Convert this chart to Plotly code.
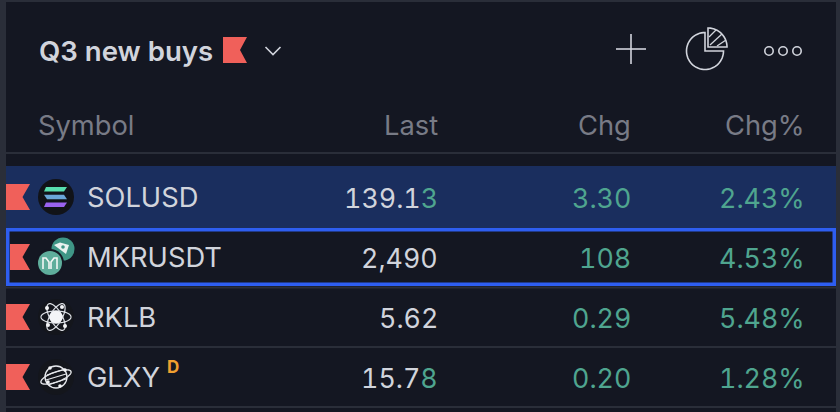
import math
import plotly.graph_objects as go

# ---- data ----
title = "Q3 new buys"
columns = ["Symbol", "Last", "Chg", "Chg%"]
symbols = ["SOLUSD", "MKRUSDT", "RKLB", "GLXY"]
last_main = ["139.1", "2,490", "5.62", "15.7"]
last_tail = ["3", "", "", "8"]
chg = ["3.30", "108", "0.29", "0.20"]
chg_pct = ["2.43%", "4.53%", "5.48%", "1.28%"]

# ---- styles ----
W, H = 840, 412
BG = "#141722"
EDGE = "#2a2e39"
TXT = "#d1d4dc"
MUTED = "#787b86"
GREEN = "#4fa58f"
RED = "#f0605a"
BLUE = "#2e5ef0"
SEL = "#1a2e5e"
FONT = "Inter"
SIZE = 27.3
NUM_SIZE = 26.8
TNUM = "font-feature-settings:'tnum'"
row_y = [197, 257, 317, 377]
col_x = [38, 438, 631, 805]

shapes, ann = [], []

def rect(x0, y0, x1, y1, fill, line=None, lw=0):
    shapes.append(dict(type="rect", x0=x0, y0=y0, x1=x1, y1=y1, fillcolor=fill,
                       line=dict(color=line or fill, width=lw), layer="above"))

def path(d, fill="rgba(0,0,0,0)", line=None, lw=0):
    shapes.append(dict(type="path", path=d, fillcolor=fill,
                       line=dict(color=line or "rgba(0,0,0,0)", width=lw), layer="above"))

def circle(cx, cy, r, fill="rgba(0,0,0,0)", line=None, lw=0):
    shapes.append(dict(type="circle", x0=cx-r, y0=cy-r, x1=cx+r, y1=cy+r, fillcolor=fill,
                       line=dict(color=line or "rgba(0,0,0,0)", width=lw), layer="above"))

def seg(x0, y0, x1, y1, color, lw):
    shapes.append(dict(type="line", x0=x0, y0=y0, x1=x1, y1=y1,
                       line=dict(color=color, width=lw), layer="above"))

def text(x, y, s, size, color, anchor="left", weight=400):
    ann.append(dict(x=x, y=y, text=s, xref="x", yref="y", showarrow=False, xanchor=anchor,
                    yanchor="middle", align=anchor, borderpad=0, borderwidth=0,
                    font=dict(family=FONT, size=size, color=color, weight=weight)))

def num(s, color=None):
    c = f";color:{color}" if color else ""
    return f'<span style="{TNUM}{c}">{s}</span>'

def flag(x0, x1, notch, yc, half=13):
    path(f"M{x0},{yc-half} L{x1},{yc-half} L{notch},{yc} L{x1},{yc+half} L{x0},{yc+half} Z", RED)

def ellipse_pts(cx, cy, a, b, rot, n=40):
    c, s = math.cos(rot), math.sin(rot)
    pts = []
    for i in range(n):
        t = 2*math.pi*i/n
        x, y = a*math.cos(t), b*math.sin(t)
        pts.append((cx+x*c-y*s, cy+x*s+y*c))
    return "M" + " L".join(f"{px:.2f},{py:.2f}" for px, py in pts) + " Z"

def arc_pts(cx, cy, r, a0, a1, n=48):
    return [(cx+r*math.cos(math.radians(a0+(a1-a0)*i/n)),
             cy+r*math.sin(math.radians(a0+(a1-a0)*i/n))) for i in range(n+1)]

def poly(pts):
    return "M" + " L".join(f"{px:.2f},{py:.2f}" for px, py in pts)

# frame
rect(0, 0, W, H, EDGE)
rect(6, 2, 836, H, BG)
seg(6, 153, 836, 153, EDGE, 2)

# header
text(38.5, 51, title, 27.6, TXT, weight=600)
flag(223, 247, 240, 50)
path("M265.5,47 L273,54.5 L280.5,47", line=TXT, lw=1.6)
seg(631, 34, 631, 64, TXT, 1.6)
seg(616, 49, 646, 49, TXT, 1.6)
# pie icon
path(poly([(705, 51)] + arc_pts(705, 51, 18.5, -90, -360)) + " Z", line=TXT, lw=1.6)
path(poly([(708, 47)] + arc_pts(708, 47, 19, -90, 0)) + " Z", line=TXT, lw=1.6)
seg(709, 37, 716, 30, TXT, 1.3)
seg(710, 45, 722, 34, TXT, 1.3)
seg(717, 46, 726, 40, TXT, 1.3)
for cx in (769, 783, 797):
    circle(cx, 51, 4.2, line=TXT, lw=1.6)

# column titles
for i, c in enumerate(columns):
    text(col_x[i], 125, c, SIZE, MUTED, "left" if i == 0 else "right")

# rows
rect(6, 166, 836, 228, SEL)
seg(6, 347, 836, 347, EDGE, 2)
seg(6, 407, 836, 407, EDGE, 2)
seg(6, 287.5, 836, 287.5, EDGE, 2)
rect(7.75, 229.75, 834.25, 284.25, "rgba(0,0,0,0)", BLUE, 3.5)

for i, yc in enumerate(row_y):
    flag(10 if i == 1 else 6, 30, 22.5, yc)
    text(86.5, yc, symbols[i], SIZE, TXT)
    tail = num(last_tail[i], GREEN) if last_tail[i] else ""
    text(col_x[1], yc + 1, num(last_main[i]) + tail, NUM_SIZE, TXT, "right")
    text(col_x[2], yc + 1, num(chg[i]), NUM_SIZE, GREEN, "right")
    text(col_x[3], yc + 1, num(chg_pct[i]), NUM_SIZE, GREEN, "right")
text(167, 367, "<b>D</b>", 17, "#f0a030")

# icon: Solana
y = row_y[0]
circle(56, y, 18, "#111318")
path(f"M46,{y-10} L67,{y-10} L64,{y-5.5} L44,{y-5.5} Z", "#58dfae")
path(f"M44,{y-2.3} L64,{y-2.3} L67,{y+2.3} L47,{y+2.3} Z", "#6aa6d8")
path(f"M46,{y+5.5} L67,{y+5.5} L64,{y+10} L44,{y+10} Z", "#9a62ee")

# icon: MKR + tag
circle(63, 249, 11.5, "#3f9686")
path("M54,245 L60,242.5 L69,245 L66,254 Z", "#e8f2ef")
circle(63, 247, 1.8, "#3f9686")
circle(50, 263, 14, BG)
circle(50, 263, 12, "#5fae9c")
path("M43,269 L43,258 L46,258 L49,262 L49,269 M51,269 L51,262 L54,258 L57,258 L57,269", line="#f2f7f5", lw=1.6)

# icon: RKLB atom
y = row_y[2]
circle(56, y, 18, "#14161c")
for r in (0, math.pi/3, -math.pi/3):
    path(ellipse_pts(56, y, 15, 6, r), line="#dcdfe4", lw=1.2)
circle(56, y, 6.5, "#f4f5f7")
for cx, cy in ((47, y-9), (65, y+9), (62, y-10), (48, y+8)):
    circle(cx, cy, 2, "#f4f5f7")

# icon: GLXY planet
y = row_y[3]
circle(56, y, 18, "#14161c")
circle(56, y, 11, line="#e6e8ec", lw=1.3)
path(ellipse_pts(56, y, 16, 5, -0.35), line="#e6e8ec", lw=1.3)
seg(47, y-2, 65, y-8, "#e6e8ec", 1.2)
seg(46, y+3, 66, y-3, "#e6e8ec", 1.2)
seg(48, y+8, 66, y+2, "#e6e8ec", 1.2)
for cx, cy in ((50, y-9), (65, y-7), (48, y+5), (60, y+9)):
    circle(cx, cy, 1.8, "#f4f5f7")

fig = go.Figure()
fig.update_layout(
    width=W, height=H, margin=dict(l=0, r=0, t=0, b=0), paper_bgcolor=BG, plot_bgcolor=BG,
    showlegend=False, shapes=shapes, annotations=ann,
    xaxis=dict(range=[0, W], visible=False, fixedrange=True),
    yaxis=dict(range=[H, 0], visible=False, fixedrange=True),
)
fig.write_html("out.html", config=dict(displayModeBar=False),
               post_script="document.body.style.margin='0';document.body.style.overflow='hidden';")
